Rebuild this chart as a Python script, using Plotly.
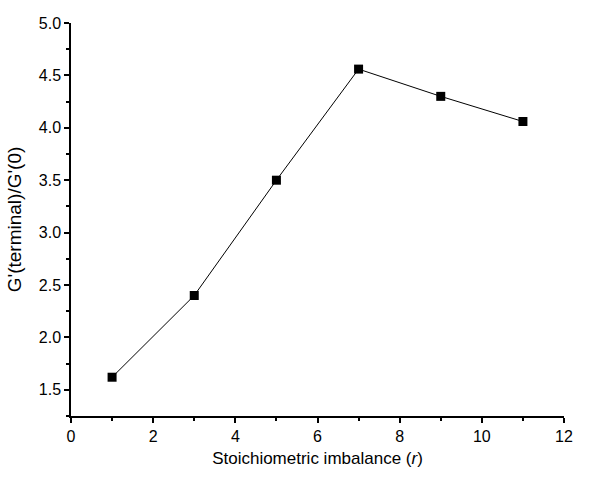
import plotly.graph_objects as go

r_values = [1, 3, 5, 7, 9, 11]
g_ratio = [1.62, 2.40, 3.50, 4.56, 4.30, 4.06]

x_title = "Stoichiometric imbalance (<i>r</i>)"
y_title = "G'(terminal)/G'(0)"

fig = go.Figure()
fig.add_trace(go.Scatter(
    x=r_values, y=g_ratio, mode="lines+markers",
    line=dict(color="black", width=1),
    marker=dict(symbol="square", size=9, color="black"),
    showlegend=False,
))

tick_font = dict(family="Liberation Sans, Arial, sans-serif", size=16, color="black")
xtitle_font = dict(family="Liberation Sans, Arial, sans-serif", size=17, color="black")
ytitle_font = dict(family="Liberation Sans, Arial, sans-serif", size=19, color="black")
axis_common = dict(
    showline=True, linecolor="black", linewidth=1.5, mirror=False,
    showgrid=False, zeroline=False,
    ticks="outside", ticklen=5, tickwidth=1.5, tickcolor="black",
    tickfont=tick_font,
)

fig.update_xaxes(
    range=[0, 12], dtick=2, tick0=0,
    minor=dict(dtick=1, ticks="outside", ticklen=3, tickwidth=1.5, tickcolor="black"),
    title=dict(text=x_title, font=xtitle_font, standoff=8),
    **axis_common,
)
fig.update_yaxes(
    range=[1.25, 5.0], dtick=0.5, tick0=0, tickformat=".1f",
    minor=dict(dtick=0.25, tick0=0, ticks="outside", ticklen=3, tickwidth=1.5, tickcolor="black"),
    title=dict(text=y_title, font=ytitle_font, standoff=12),
    **axis_common,
)

fig.update_layout(
    width=612, height=477,
    margin=dict(l=71, r=48, t=23, b=57),
    plot_bgcolor="white", paper_bgcolor="white",
    font=tick_font,
)

fig.write_html("out.html")
